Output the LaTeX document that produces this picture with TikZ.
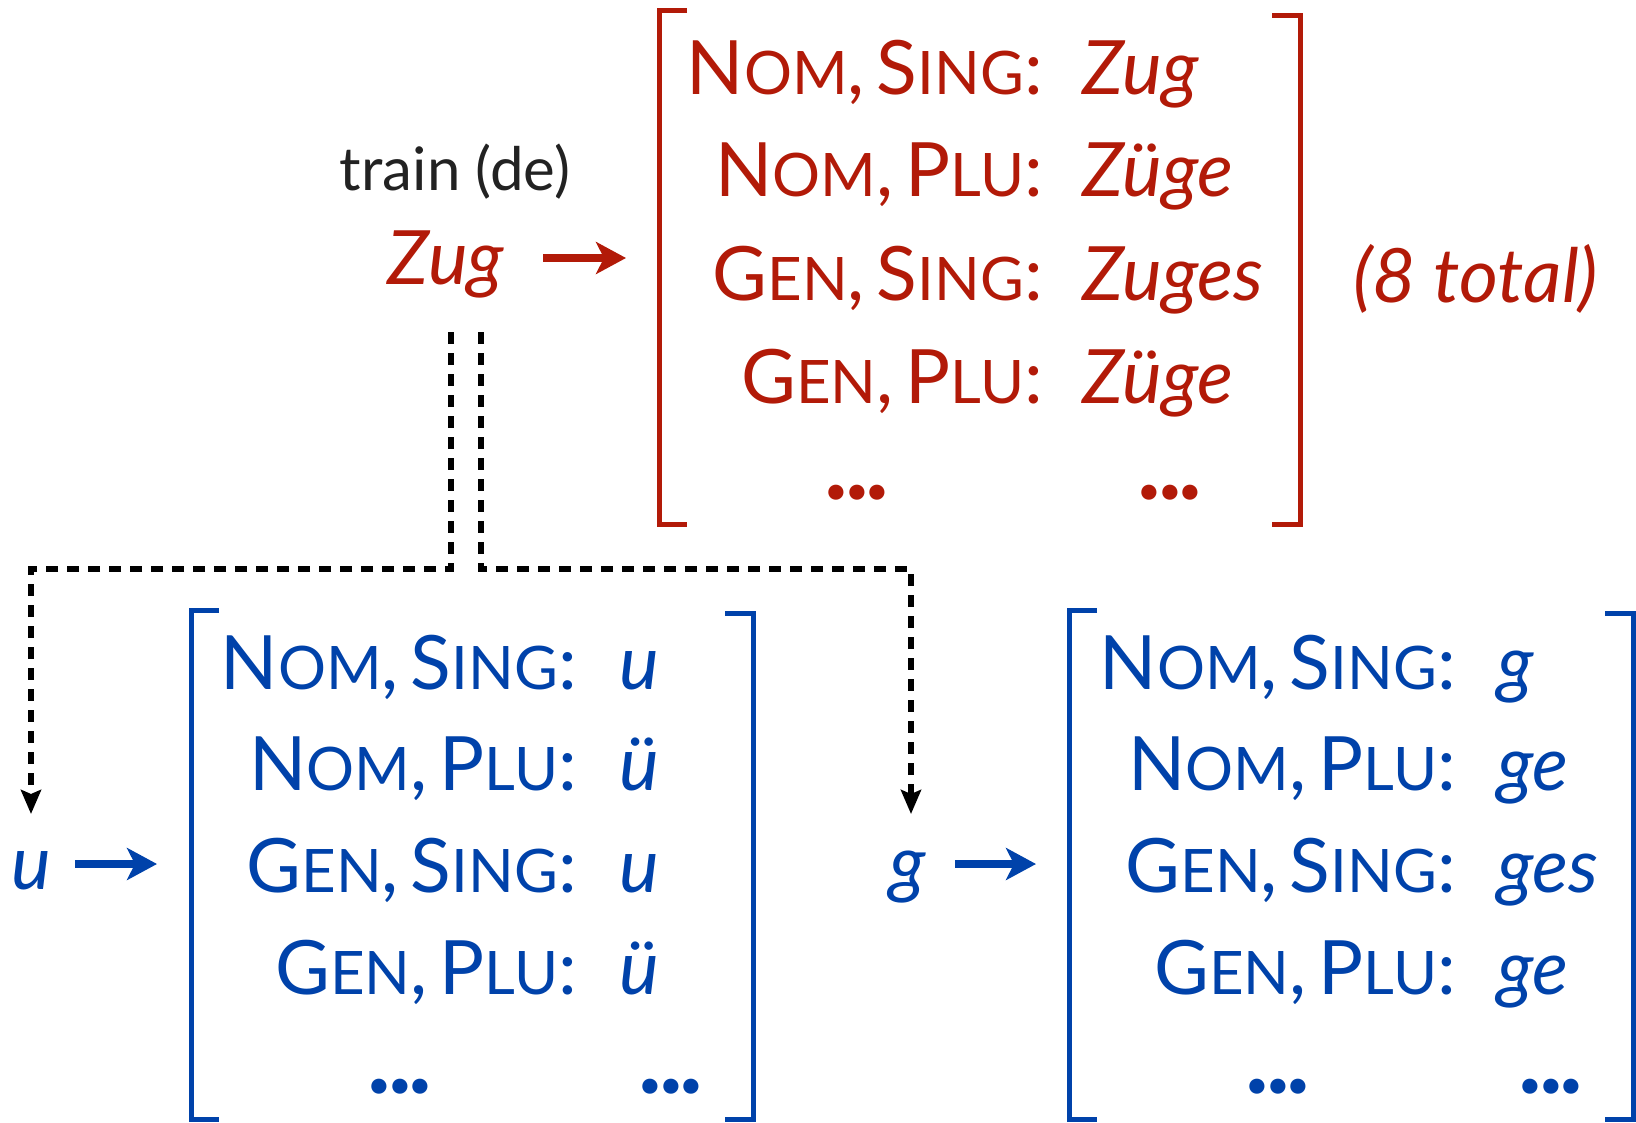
\documentclass[tikz,border=0pt]{standalone}
\usepackage{fontspec}
\setmainfont{Lato}
\usetikzlibrary{arrows.meta}
\definecolor{dred}{RGB}{178,26,8}
\definecolor{dblue}{RGB}{0,66,170}
\definecolor{ink}{RGB}{34,34,34}
% fake small caps: full-size initial, reduced remainder
\newcommand\smc[2]{#1{\fontsize{60pt}{60pt}\selectfont #2}}
% feature pair, e.g. \feat{N}{OM}{S}{ING}
\newcommand\feat[4]{\smc{#1}{#2},\hspace{0.16em}\smc{#3}{#4}:}
% heavy, tightly set ellipsis
\newcommand\bigdots{{\fontsize{100pt}{100pt}\selectfont\bfseries .\kern-3.5pt.\kern-3.5pt.}}
\tikzset{
  txt/.style={inner sep=0pt, font=\fontsize{75pt}{75pt}\selectfont},
  lbl/.style={txt, anchor=base east},
  val/.style={txt, anchor=base west, font=\fontsize{75pt}{75pt}\selectfont\itshape},
  dots/.style={inner sep=0pt, anchor=center},
  brk/.style={line width=5pt},
  solidarrow/.style={line width=7.5pt, -{Stealth[length=30pt,width=32pt,inset=8pt]}},
  dasharrow/.style={line width=5.5pt, dash pattern=on 12pt off 9pt, -{Stealth[length=24pt,width=20pt,inset=4pt]}},
}
\begin{document}
\begin{tikzpicture}[x=1pt,y=-1pt]
\useasboundingbox (0,0) rectangle (1636,1122);

% ---------- top: the lexeme and its full paradigm ----------
\node[txt, anchor=base, text=ink, font=\fontsize{60pt}{60pt}\selectfont] (gloss) at (455,190) {train (de)};
\node[val, anchor=base, text=dred] (zug) at (446,284) {Zug};

\begin{scope}[text=dred]
  \node[lbl] (r1l) at (1043,94) {\feat{N}{OM}{S}{ING}};
  \node[val] (r1v) at (1082,94) {Zug};
  \node[lbl] (r2l) at (1043,196) {\feat{N}{OM}{P}{LU}};
  \node[val] (r2v) at (1082,196) {Züge};
  \node[lbl] (r3l) at (1043,300) {\feat{G}{EN}{S}{ING}};
  \node[val] (r3v) at (1082,300) {Zuges};
  \node[lbl] (r4l) at (1043,403) {\feat{G}{EN}{P}{LU}};
  \node[val] (r4v) at (1082,403) {Züge};
  \node[dots] (r5l) at (857,493) {\bigdots};
  \node[dots] (r5v) at (1170,493) {\bigdots};
  \node[val, anchor=base west] (total) at (1353,302) {(8 total)};
\end{scope}
\draw[brk, dred] (687,10) -- (659,10) -- (659,524) -- (687,524);
\draw[brk, dred] (1272,15) -- (1300,15) -- (1300,524) -- (1272,524);
\coordinate (redin) at (543,258);
\coordinate (redout) at (626,258);
\draw[solidarrow, dred] (redin) -- (redout);

% ---------- dashed splits of the stem ----------
\coordinate (splitL) at (451,332);
\coordinate (splitR) at (481,332);
\coordinate (tipL) at (31,814);
\coordinate (tipR) at (911,814);
\draw[dasharrow] (splitL) |- (31,569) -- (tipL);
\draw[dasharrow] (splitR) |- (911,569) -- (tipR);

% ---------- bottom left: the vowel ----------
\node[val, anchor=base, text=dblue] (u) at (31,889) {u};
\coordinate (uin) at (75,864);
\coordinate (uout) at (157,864);
\draw[solidarrow, dblue] (uin) -- (uout);
\begin{scope}[text=dblue]
  \node[lbl] (u1l) at (577,689) {\feat{N}{OM}{S}{ING}};
  \node[val] (u1v) at (619,689) {u};
  \node[lbl] (u2l) at (577,790) {\feat{N}{OM}{P}{LU}};
  \node[val] (u2v) at (619,790) {ü};
  \node[lbl] (u3l) at (577,892) {\feat{G}{EN}{S}{ING}};
  \node[val] (u3v) at (619,892) {u};
  \node[lbl] (u4l) at (577,994) {\feat{G}{EN}{P}{LU}};
  \node[val] (u4v) at (619,994) {ü};
  \node[dots] (u5l) at (400,1087) {\bigdots};
  \node[dots] (u5v) at (671,1087) {\bigdots};
\end{scope}
\draw[brk, dblue] (219,610) -- (191,610) -- (191,1119) -- (219,1119);
\draw[brk, dblue] (725,613) -- (753,613) -- (753,1119) -- (725,1119);

% ---------- bottom right: the consonant suffix ----------
\node[val, anchor=base, text=dblue] (g) at (908,889) {g};
\coordinate (gin) at (955,864);
\coordinate (gout) at (1036,864);
\draw[solidarrow, dblue] (gin) -- (gout);
\begin{scope}[text=dblue]
  \node[lbl] (g1l) at (1456,689) {\feat{N}{OM}{S}{ING}};
  \node[val] (g1v) at (1497,689) {g};
  \node[lbl] (g2l) at (1456,790) {\feat{N}{OM}{P}{LU}};
  \node[val] (g2v) at (1497,790) {ge};
  \node[lbl] (g3l) at (1456,892) {\feat{G}{EN}{S}{ING}};
  \node[val] (g3v) at (1497,892) {ges};
  \node[lbl] (g4l) at (1456,994) {\feat{G}{EN}{P}{LU}};
  \node[val] (g4v) at (1497,994) {ge};
  \node[dots] (g5l) at (1278,1087) {\bigdots};
  \node[dots] (g5v) at (1551,1087) {\bigdots};
\end{scope}
\draw[brk, dblue] (1097,610) -- (1069,610) -- (1069,1119) -- (1097,1119);
\draw[brk, dblue] (1605,613) -- (1633,613) -- (1633,1119) -- (1605,1119);
\end{tikzpicture}
\end{document}
